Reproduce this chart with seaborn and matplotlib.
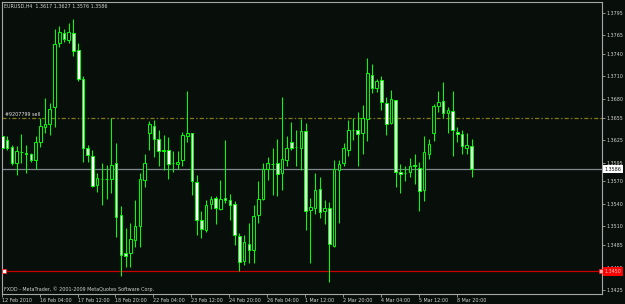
import os
import numpy as np
import pandas as pd
import matplotlib
matplotlib.use("Agg")
import matplotlib.pyplot as plt
import matplotlib.transforms as mtransforms
from matplotlib import font_manager
from matplotlib.font_manager import FontProperties
from matplotlib.textpath import TextPath
import seaborn as sns

# ---------------- data ----------------
symbol = "EURUSD,H4"
opens = [1.3630, 1.3625, 1.3616, 1.3594, 1.3609, 1.3607, 1.3607, 1.3598, 1.3622, 1.3642,
         1.3647, 1.3669, 1.3754, 1.3768, 1.3758, 1.3768, 1.3745, 1.3707, 1.3614, 1.3604,
         1.3565, 1.3573, 1.3573, 1.3573, 1.3594, 1.3525, 1.3475, 1.3475, 1.3492, 1.3510,
         1.3572, 1.3634, 1.3644, 1.3627, 1.3611, 1.3612, 1.3594, 1.3593, 1.3598, 1.3630,
         1.3634, 1.3569, 1.3518, 1.3505, 1.3540, 1.3548, 1.3533, 1.3548, 1.3545, 1.3540,
         1.3497, 1.3464, 1.3487, 1.3478, 1.3525, 1.3547, 1.3587, 1.3593, 1.3595, 1.3581,
         1.3599, 1.3623, 1.3616, 1.3615, 1.3637, 1.3532, 1.3534, 1.3560, 1.3530, 1.3534,
         1.3484, 1.3585, 1.3594, 1.3612, 1.3638, 1.3638, 1.3634, 1.3653, 1.3712, 1.3694,
         1.3705, 1.3675, 1.3648, 1.3678, 1.3583, 1.3581, 1.3582, 1.3592, 1.3588, 1.3558,
         1.3606, 1.3634, 1.3670, 1.3677, 1.3661, 1.3664, 1.3636, 1.3633, 1.3615, 1.3617]
highs = [1.3632, 1.3630, 1.3618, 1.3617, 1.3633, 1.3618, 1.3608, 1.3630, 1.3654, 1.3681,
         1.3674, 1.3773, 1.3777, 1.3773, 1.3781, 1.3786, 1.3755, 1.3710, 1.3619, 1.3612,
         1.3581, 1.3594, 1.3592, 1.3654, 1.3621, 1.3537, 1.3508, 1.3514, 1.3545, 1.3581,
         1.3607, 1.3650, 1.3652, 1.3638, 1.3632, 1.3629, 1.3610, 1.3610, 1.3636, 1.3690,
         1.3635, 1.3578, 1.3530, 1.3545, 1.3550, 1.3551, 1.3572, 1.3625, 1.3553, 1.3544,
         1.3501, 1.3498, 1.3515, 1.3538, 1.3570, 1.3594, 1.3602, 1.3614, 1.3626, 1.3683,
         1.3631, 1.3649, 1.3639, 1.3653, 1.3648, 1.3548, 1.3581, 1.3576, 1.3545, 1.3543,
         1.3598, 1.3598, 1.3621, 1.3652, 1.3654, 1.3662, 1.3672, 1.3734, 1.3726, 1.3707,
         1.3710, 1.3682, 1.3692, 1.3679, 1.3593, 1.3591, 1.3601, 1.3606, 1.3596, 1.3630,
         1.3626, 1.3673, 1.3690, 1.3703, 1.3669, 1.3690, 1.3642, 1.3638, 1.3634, 1.3627]
lows = [1.3601, 1.3612, 1.3592, 1.3578, 1.3594, 1.3581, 1.3596, 1.3587, 1.3616, 1.3634,
        1.3632, 1.3643, 1.3749, 1.3756, 1.3755, 1.3737, 1.3704, 1.3596, 1.3596, 1.3563,
        1.3556, 1.3538, 1.3547, 1.3554, 1.3496, 1.3444, 1.3456, 1.3456, 1.3482, 1.3483,
        1.3562, 1.3612, 1.3603, 1.3590, 1.3585, 1.3573, 1.3582, 1.3587, 1.3590, 1.3622,
        1.3552, 1.3498, 1.3495, 1.3502, 1.3533, 1.3513, 1.3532, 1.3541, 1.3518, 1.3485,
        1.3451, 1.3458, 1.3461, 1.3461, 1.3515, 1.3545, 1.3572, 1.3552, 1.3550, 1.3558,
        1.3590, 1.3612, 1.3590, 1.3585, 1.3505, 1.3461, 1.3527, 1.3521, 1.3513, 1.3436,
        1.3483, 1.3514, 1.3590, 1.3604, 1.3625, 1.3591, 1.3606, 1.3624, 1.3688, 1.3689,
        1.3665, 1.3632, 1.3646, 1.3563, 1.3555, 1.3570, 1.3576, 1.3567, 1.3530, 1.3544,
        1.3600, 1.3624, 1.3662, 1.3655, 1.3635, 1.3604, 1.3623, 1.3606, 1.3606, 1.3576]
closes = [1.3615, 1.3615, 1.3594, 1.3611, 1.3609, 1.3607, 1.3598, 1.3622, 1.3644, 1.3646,
          1.3667, 1.3753, 1.3769, 1.3760, 1.3769, 1.3744, 1.3707, 1.3615, 1.3605, 1.3564,
          1.3575, 1.3573, 1.3573, 1.3592, 1.3523, 1.3472, 1.3470, 1.3493, 1.3511, 1.3573,
          1.3594, 1.3646, 1.3626, 1.3611, 1.3611, 1.3593, 1.3594, 1.3596, 1.3632, 1.3635,
          1.3570, 1.3519, 1.3506, 1.3538, 1.3546, 1.3534, 1.3546, 1.3545, 1.3538, 1.3498,
          1.3463, 1.3489, 1.3478, 1.3524, 1.3546, 1.3586, 1.3594, 1.3593, 1.3580, 1.3600,
          1.3615, 1.3614, 1.3616, 1.3637, 1.3530, 1.3536, 1.3558, 1.3529, 1.3535, 1.3486,
          1.3586, 1.3593, 1.3614, 1.3638, 1.3638, 1.3633, 1.3654, 1.3714, 1.3695, 1.3704,
          1.3676, 1.3647, 1.3680, 1.3583, 1.3580, 1.3581, 1.3591, 1.3590, 1.3557, 1.3609,
          1.3620, 1.3671, 1.3676, 1.3661, 1.3665, 1.3638, 1.3633, 1.3617, 1.3618, 1.3586]

time_labels = ["12 Feb 2010", "16 Feb 04:00", "17 Feb 12:00", "18 Feb 20:00", "22 Feb 04:00",
               "23 Feb 12:00", "24 Feb 20:00", "26 Feb 04:00", "1 Mar 12:00", "2 Mar 20:00",
               "4 Mar 04:00", "5 Mar 12:00", "8 Mar 20:00"]
time_label_step = 8
price_ticks = [1.3795, 1.3765, 1.3740, 1.3710, 1.3680, 1.3655, 1.3625, 1.3595, 1.3570,
               1.3540, 1.3510, 1.3485, 1.3455, 1.3425]
bid_price = 1.3586
order_price = 1.3655
order_label = "#9207799 sell"
level_price = 1.3450
footer = "FXDD - MetaTrader, \u00a9 2001-2009 MetaQuotes Software Corp."

# ---------------- style ----------------
BG = "#080e0a"
GREEN = "#00ff00"
TXT = "#d4d4d4"

sns.set_theme(style="dark", rc={
    "axes.facecolor": BG, "figure.facecolor": BG, "savefig.facecolor": BG,
    "axes.edgecolor": "#a8a8a8", "axes.grid": False, "lines.scale_dashes": False,
})

# pick a narrow font if one is installed
ttf = font_manager.fontManager.ttflist
fp_path = None
for pref in ("LiberationSansNarrow-Regular", "DejaVuSansCondensed.ttf", "LiberationSans-Regular",
             "DejaVuSans.ttf"):
    for f in ttf:
        if os.path.basename(f.fname).startswith(pref.replace(".ttf", "")) and \
                os.path.basename(f.fname).split(".")[0] == pref.replace(".ttf", ""):
            fp_path = f.fname
            break
    if fp_path:
        break
base_fp = FontProperties(fname=fp_path) if fp_path else FontProperties(family="DejaVu Sans")
plt.rcParams["font.family"] = ["Liberation Sans", "DejaVu Sans"]


def ink_width_px(s, fp, size):
    tp = TextPath((0, 0), s, size=size, prop=fp)
    return tp.get_extents().width * 100 / 72


# fit the size so "12 Feb 2010" is ~29 px wide, as in the reference
FS = 5.0
w = ink_width_px(time_labels[0], base_fp, FS)
if w > 29.5:
    FS = FS * 29.5 / w
FS = max(FS, 3.6)


def fprop():
    p = base_fp.copy()
    p.set_size(FS)
    return p


df = pd.DataFrame({"open": opens, "high": highs, "low": lows, "close": closes})
df["idx"] = np.arange(len(df))
df["bull"] = df["close"] > df["open"]
df["bottom"] = df[["open", "close"]].min(axis=1)
df["height"] = (df["close"] - df["open"]).abs().clip(lower=0.00004)

W, H = 625, 304
fig = plt.figure(figsize=(W / 100, H / 100), dpi=100)
ax = fig.add_axes([1.7 / W, 1 - 294 / H, (602.3 - 1.7) / W, (294 - 1.7) / H])
ax.set_facecolor(BG)

# horizontal lines
ax.axhline(bid_price, color="#7f868e", lw=0.9, zorder=1)
ax.axhline(level_price, color="#c80000", lw=0.9, zorder=1)
ax.axhline(order_price, color="#857a18", lw=0.9, zorder=1, linestyle=(0, (3.0, 1.5, 1.1, 1.5)))

# candles
ax.vlines(df["idx"], df["low"], df["high"], color=GREEN, lw=0.75, zorder=2)
bu = df[df["bull"]]
be = df[~df["bull"]]
ax.bar(bu["idx"], bu["height"], bottom=bu["bottom"], width=0.55, color=BG,
       edgecolor=GREEN, linewidth=0.7, zorder=3)
ax.bar(be["idx"], be["height"], bottom=be["bottom"], width=0.55, color="white",
       edgecolor=GREEN, linewidth=0.7, zorder=3)

x0, x1 = -0.13, 126.6
ax.set_xlim(x0, x1)
ax.set_ylim(1.34197, 1.38095)

# axes ticks
for s in ax.spines.values():
    s.set_color("#a8a8a8")
    s.set_linewidth(0.8)
ax.yaxis.tick_right()
ax.set_yticks(price_ticks)
ax.set_yticklabels([f"{p:.4f}" for p in price_ticks], fontproperties=fprop())
ax.tick_params(axis="y", which="both", right=True, left=False, length=2.0, width=0.6,
               color="#a8a8a8", labelcolor=TXT, pad=1.2)
xt = np.arange(len(time_labels)) * time_label_step - 0.15
ax.set_xticks(xt)
ax.set_xticklabels(time_labels, ha="left", fontproperties=fprop())
ax.tick_params(axis="x", which="both", bottom=True, length=2.2, width=0.6,
               color="#a8a8a8", labelcolor=TXT, pad=0.6)
ax.set_xlabel("")
ax.set_ylabel("")

# right-side price boxes
bt = mtransforms.blended_transform_factory(ax.transAxes, ax.transData)
ax.text(1.0 + 2.5 / 600.6, bid_price, f"{bid_price:.4f}", transform=bt, ha="left", va="center",
        fontproperties=fprop(), color="#101010", zorder=6, clip_on=False,
        bbox=dict(boxstyle="square,pad=0.3", fc="white", ec="none"))
ax.text(1.0 + 2.5 / 600.6, level_price, f"{level_price:.4f}", transform=bt, ha="left", va="center",
        fontproperties=fprop(), color="#ffd0d0", zorder=6, clip_on=False,
        bbox=dict(boxstyle="square,pad=0.35", fc="#ff0000", ec="none"))
ax.plot([0.25], [level_price], marker="s", ms=2.6, mfc="white", mec="#ff2020", mew=0.6,
        zorder=5, clip_on=False)
ax.plot([x1 - 0.35], [level_price], marker="s", ms=2.4, mfc="#ffb0b0", mec="#ff2020", mew=0.5,
        zorder=5, clip_on=False)


# texts
def px(x, y):
    return x / W, 1 - y / H


last = df.iloc[-1]
header = f"{symbol}  {last.open:.4f} {last.high:.4f} {last.low:.4f} {last.close:.4f}"
fig.text(*px(4, 6), header, fontproperties=fprop(), color=TXT, ha="left", va="center")
fig.text(*px(5, 115), order_label, fontproperties=fprop(), color="#e8e8e8", ha="left", va="center")
fig.text(*px(3.7, 289), footer, fontproperties=fprop(), color=TXT, ha="left", va="center")

fig.savefig("out.png", dpi=100, facecolor=BG)
